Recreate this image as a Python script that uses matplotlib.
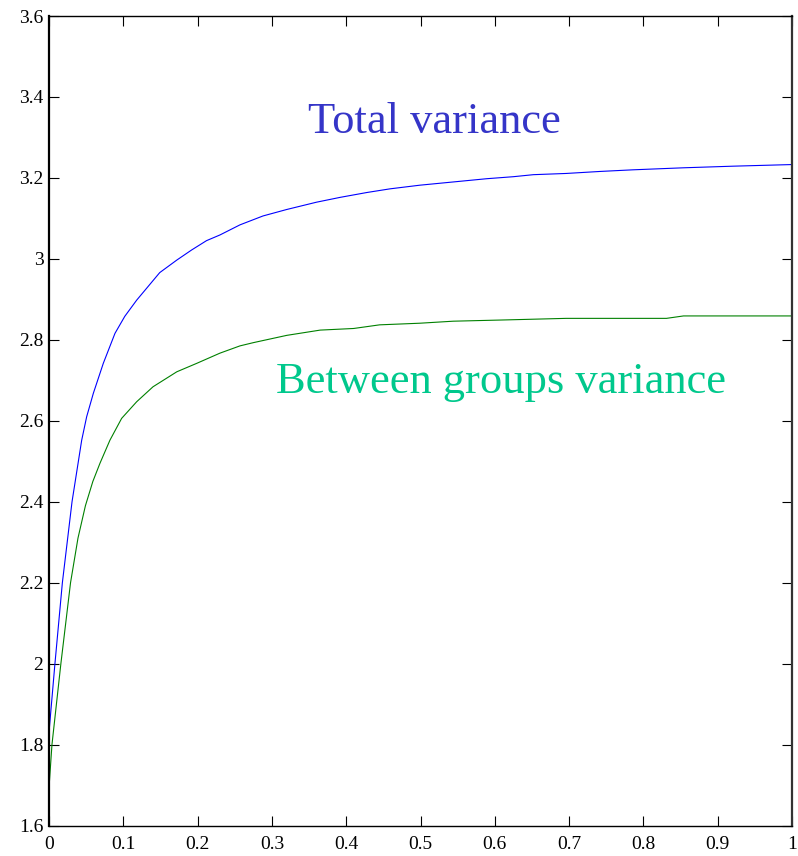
import matplotlib
matplotlib.use("Agg")
import matplotlib.pyplot as plt

# Total variance curve
total_x = [0.0, 0.008, 0.018, 0.031, 0.044, 0.0507, 0.0597, 0.0731, 0.0888, 0.102,
           0.118, 0.149, 0.172, 0.192, 0.212, 0.230, 0.257, 0.288, 0.32, 0.36,
           0.392, 0.428, 0.459, 0.499, 0.544, 0.589, 0.625, 0.652, 0.696, 0.742,
           0.786, 0.854, 0.921, 1.0]
total_y = [1.83, 2.0, 2.2, 2.4, 2.552, 2.61, 2.668, 2.742, 2.816, 2.858,
           2.898, 2.966, 2.997, 3.022, 3.045, 3.059, 3.084, 3.106, 3.122, 3.140,
           3.152, 3.164, 3.173, 3.182, 3.190, 3.198, 3.203, 3.208, 3.211, 3.216,
           3.220, 3.225, 3.229, 3.233]

# Between-groups variance curve
between_x = [0.0, 0.004, 0.016, 0.029, 0.039, 0.049, 0.059, 0.0686, 0.082, 0.0978,
             0.118, 0.140, 0.172, 0.199, 0.230, 0.257, 0.275, 0.32, 0.365, 0.410,
             0.445, 0.499, 0.544, 0.611, 0.696, 0.831, 0.854, 1.0]
between_y = [1.693, 1.80, 2.0, 2.2, 2.31, 2.39, 2.45, 2.495, 2.552, 2.606,
             2.647, 2.684, 2.721, 2.742, 2.767, 2.785, 2.793, 2.811, 2.824, 2.828,
             2.837, 2.841, 2.846, 2.849, 2.853, 2.853, 2.859, 2.859]

x_ticks = [0, 0.1, 0.2, 0.3, 0.4, 0.5, 0.6, 0.7, 0.8, 0.9, 1]
x_tick_labels = ["0", "0.1", "0.2", "0.3", "0.4", "0.5", "0.6", "0.7", "0.8", "0.9", "1"]
y_ticks = [1.6, 1.8, 2.0, 2.2, 2.4, 2.6, 2.8, 3.0, 3.2, 3.4, 3.6]
y_tick_labels = ["1.6", "1.8", "2", "2.2", "2.4", "2.6", "2.8", "3", "3.2", "3.4", "3.6"]

plt.rcParams["font.family"] = ["Liberation Serif", "DejaVu Serif"]

fig = plt.figure(figsize=(7.98, 8.56), dpi=100)
ax = fig.add_axes([0.0614, 0.0356, 0.9311, 0.9457])

ax.plot(total_x, total_y, color="#0000ff", linewidth=0.8)
ax.plot(between_x, between_y, color="#008000", linewidth=0.8)

ax.text(0.349, 3.311, "Total variance", color="#3535c8", fontsize=32,
        ha="left", va="baseline")
ax.text(0.3055, 2.669, "Between groups variance", color="#00c88c", fontsize=32,
        ha="left", va="baseline")

ax.set_xlim(0, 1)
ax.set_ylim(1.6, 3.6)
ax.set_xticks(x_ticks)
ax.set_xticklabels(x_tick_labels)
ax.set_yticks(y_ticks)
ax.set_yticklabels(y_tick_labels)

ax.tick_params(direction="in", length=7.5, width=0.8, top=True, right=True,
               labelsize=14, colors="black")
ax.tick_params(axis="x", pad=7.5)
ax.tick_params(axis="y", pad=4)

for side in ("left", "right"):
    ax.spines[side].set_linewidth(1.6)
for side in ("top", "bottom"):
    ax.spines[side].set_linewidth(1.0)
ax.spines["right"].set_color("#333333")

fig.savefig("out.png", dpi=100)
